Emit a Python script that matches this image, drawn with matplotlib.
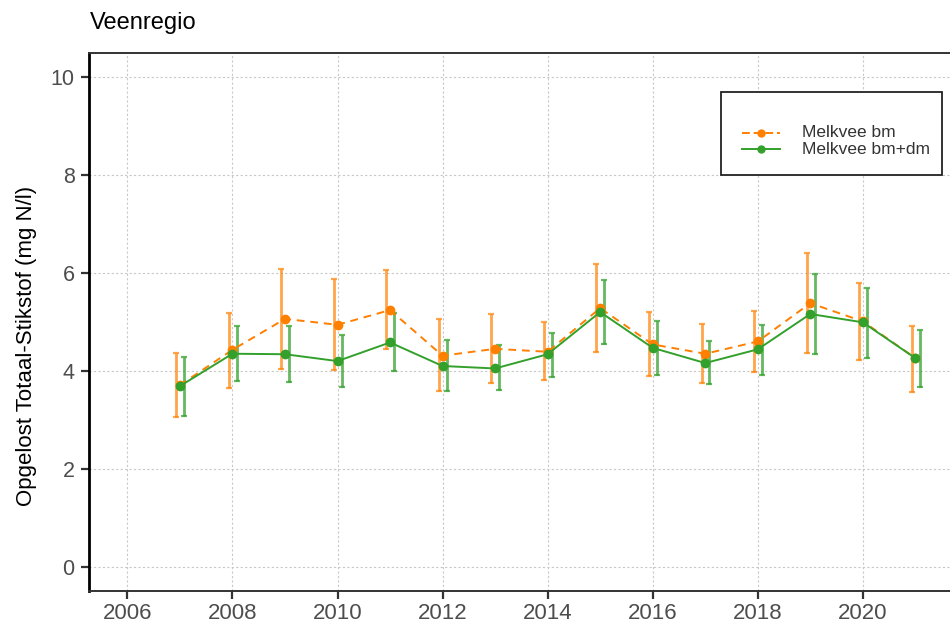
import numpy as np
import matplotlib.pyplot as plt
from matplotlib.patches import Rectangle
from matplotlib.lines import Line2D

plt.rcParams['font.family'] = ['Liberation Sans', 'DejaVu Sans']

years = np.arange(2007, 2022)

# Melkvee bm (orange, dashed)
bm = [3.71, 4.43, 5.06, 4.94, 5.24, 4.31, 4.45, 4.39, 5.28, 4.54, 4.35, 4.60, 5.38, 5.01, 4.26]
bm_lo = [3.07, 3.65, 4.04, 4.02, 4.45, 3.59, 3.75, 3.82, 4.38, 3.90, 3.76, 3.97, 4.36, 4.22, 3.57]
bm_hi = [4.37, 5.19, 6.08, 5.87, 6.05, 5.06, 5.16, 4.99, 6.18, 5.21, 4.95, 5.22, 6.40, 5.79, 4.92]

# Melkvee bm+dm (green, solid)
bmdm = [3.69, 4.35, 4.34, 4.20, 4.58, 4.10, 4.05, 4.34, 5.20, 4.47, 4.16, 4.44, 5.16, 4.99, 4.26]
bmdm_lo = [3.09, 3.80, 3.78, 3.67, 3.99, 3.60, 3.61, 3.88, 4.54, 3.92, 3.73, 3.92, 4.34, 4.26, 3.68]
bmdm_hi = [4.28, 4.91, 4.91, 4.74, 5.18, 4.62, 4.52, 4.78, 5.86, 5.01, 4.61, 4.94, 5.98, 5.70, 4.84]

labels = ['Melkvee bm', 'Melkvee bm+dm']

orange = '#FF7F00'
green = '#33A02C'
textgray = '#4D4D4D'

W, H = 950, 629
fig = plt.figure(figsize=(9.5, 6.29), dpi=100)
ax = fig.add_axes([88.5 / W, 38.3 / H, 1 - 88.5 / W + 0.01, 537.7 / H])

ax.set_xlim(2005.26, 2021.84)
ax.set_ylim(-0.48, 10.48)
ax.set_xticks(np.arange(2006, 2021, 2))
ax.set_yticks(np.arange(0, 11, 2))
ax.grid(True, color='#C8C8C8', linestyle=(0, (2, 2)), linewidth=0.8)
ax.set_axisbelow(True)

# error bars, dodged a little
bm = np.array(bm)
bmdm = np.array(bmdm)
ax.errorbar(years - 0.07, bm, yerr=[bm - np.array(bm_lo), np.array(bm_hi) - bm],
            fmt='none', ecolor=orange, alpha=0.7, elinewidth=2.0, capsize=2.2, capthick=1.6, zorder=2)
ax.errorbar(years + 0.08, bmdm, yerr=[bmdm - np.array(bmdm_lo), np.array(bmdm_hi) - bmdm],
            fmt='none', ecolor=green, alpha=0.75, elinewidth=2.0, capsize=2.2, capthick=1.6, zorder=3)

ax.plot(years, bm, color=orange, linestyle=(0, (4, 3)), linewidth=1.4,
        marker='o', markersize=6, zorder=4)
ax.plot(years, bmdm, color=green, linestyle='-', linewidth=1.4,
        marker='o', markersize=6, zorder=5)

ax.spines['right'].set_visible(False)
ax.spines['left'].set_linewidth(2.0)
ax.spines['left'].set_color('black')
ax.spines['bottom'].set_linewidth(1.4)
ax.spines['bottom'].set_color('#333333')
ax.spines['top'].set_linewidth(1.4)
ax.spines['top'].set_color('#333333')
ax.tick_params(axis='both', direction='out', length=5.5, width=1.6, color='#333333',
               labelcolor=textgray)
ax.tick_params(axis='x', labelsize=16, pad=3)
ax.tick_params(axis='y', labelsize=15.5, pad=4.5)

ax.set_ylabel('Opgelost Totaal-Stikstof (mg N/l)', fontsize=16, color='black')
ax.yaxis.set_label_coords(-0.0591, 0.455)
fig.text(90 / W, 1 - 29.5 / H, 'Veenregio', fontsize=17, va='baseline', ha='left')

# legend box, drawn by hand
fig.patches.append(Rectangle((720.7 / W, 1 - 175 / H), 221 / W, 83.3 / H,
                             transform=fig.transFigure, facecolor='white',
                             edgecolor='#222222', linewidth=1.3, zorder=10))
rows = [(132.7, orange, (0, (4, 2))), (149.3, green, '-')]
for (py, col, ls), lab in zip(rows, labels):
    yy = 1 - py / H
    fig.lines.append(Line2D([741.7 / W, 780 / W], [yy, yy], transform=fig.transFigure,
                            color=col, linestyle=ls, linewidth=1.4, zorder=11))
    fig.lines.append(Line2D([761 / W], [yy], transform=fig.transFigure, color=col,
                            marker='o', markersize=5, linestyle='none', zorder=12))
    fig.text(802 / W, yy, lab, fontsize=12.5, color='#333333', va='center', ha='left', zorder=12)

fig.savefig('out.png', dpi=100)
